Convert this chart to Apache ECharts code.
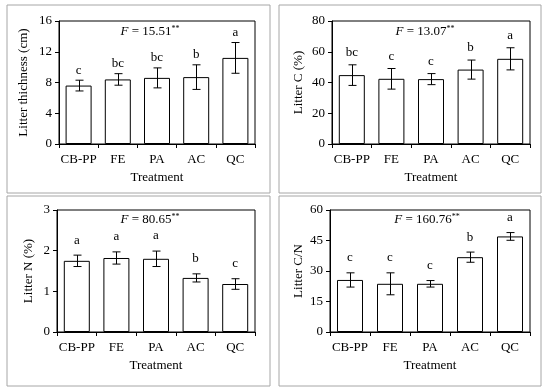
<!DOCTYPE html>
<html><head><meta charset="utf-8">
<script src="https://cdn.jsdelivr.net/npm/echarts@6/dist/echarts.min.js"></script>
<style>html,body{margin:0;padding:0;background:#fff}#c{width:550px;height:389px}</style>
</head><body><div id="c"></div>
<script>
var categories = ['CB-PP', 'FE', 'PA', 'AC', 'QC'];

var thickMean = [7.6, 8.4, 8.6, 8.7, 11.2];
var thickErr = [0.7, 0.75, 1.3, 1.6, 2.0];
var thickLetters = ['c', 'bc', 'bc', 'b', 'a'];

var carbonMean = [44.8, 42.4, 42.2, 48.4, 55.4];
var carbonErr = [6.7, 6.7, 3.6, 6.2, 7.2];
var carbonLetters = ['bc', 'c', 'c', 'b', 'a'];

var nitrogenMean = [1.75, 1.82, 1.80, 1.33, 1.18];
var nitrogenErr = [0.14, 0.15, 0.19, 0.10, 0.13];
var nitrogenLetters = ['a', 'a', 'a', 'b', 'c'];

var cnMean = [25.6, 23.7, 23.7, 36.8, 47.0];
var cnErr = [3.5, 5.4, 1.6, 2.5, 1.9];
var cnLetters = ['c', 'c', 'c', 'b', 'a'];

var fValues = ['15.51', '13.07', '80.65', '160.76'];
var yNames = ['Litter thichness (cm)', 'Litter C (%)', 'Litter N (%)', 'Litter C/N'];
var yMax = [16, 80, 3, 60];
var yInterval = [4, 20, 1, 15];

var FONT = '"Liberation Serif", "Times New Roman", serif';
var panels = [
  {mean: thickMean, err: thickErr, letters: thickLetters, grid: {left: 59, top: 21, width: 196, height: 123}, nameGap: 29, letterOff: 10, box: [7, 5, 263, 188], f: [150, 32]},
  {mean: carbonMean, err: carbonErr, letters: carbonLetters, grid: {left: 332, top: 21, width: 198, height: 123}, nameGap: 27, letterOff: 12, box: [279, 5, 262, 188], f: [425, 32]},
  {mean: nitrogenMean, err: nitrogenErr, letters: nitrogenLetters, grid: {left: 57, top: 210, width: 198, height: 122}, nameGap: 22, letterOff: 15, box: [7, 196, 263, 190], f: [150, 220]},
  {mean: cnMean, err: cnErr, letters: cnLetters, grid: {left: 330, top: 210, width: 200, height: 122}, nameGap: 25, letterOff: 15, box: [279, 196, 262, 190], f: [427, 220]}
];

var grids = [], xAxes = [], yAxes = [], series = [], graphics = [];
panels.forEach(function (p, k) {
  grids.push(Object.assign({show: true, borderColor: '#000', borderWidth: 1, backgroundColor: 'transparent'}, p.grid));
  xAxes.push({
    type: 'category', gridIndex: k, data: categories,
    name: 'Treatment', nameLocation: 'middle', nameGap: 27,
    nameTextStyle: {fontFamily: FONT, fontSize: 13, color: '#000'},
    axisLine: {lineStyle: {color: '#000', width: 1}},
    axisTick: {show: true, length: 4, lineStyle: {color: '#000'}},
    axisLabel: {fontFamily: FONT, fontSize: 13, color: '#000', margin: 9, interval: 0},
    splitLine: {show: false}
  });
  yAxes.push({
    type: 'value', gridIndex: k, min: 0, max: yMax[k], interval: yInterval[k],
    name: yNames[k], nameLocation: 'middle', nameGap: p.nameGap,
    nameTextStyle: {fontFamily: FONT, fontSize: 13, color: '#000'},
    axisLine: {show: true, lineStyle: {color: '#000', width: 1}},
    axisTick: {show: true, length: 4, lineStyle: {color: '#000'}},
    axisLabel: {fontFamily: FONT, fontSize: 13, color: '#000', margin: 7},
    splitLine: {show: false}
  });
  series.push({
    type: 'bar', xAxisIndex: k, yAxisIndex: k, data: p.mean, barWidth: 26, z: 2,
    itemStyle: {color: '#fff', borderColor: '#000', borderWidth: 1},
    silent: true, animation: false
  });
  var errData = p.mean.map(function (m, i) { return [i, m, p.err[i]]; });
  series.push({
    type: 'custom', xAxisIndex: k, yAxisIndex: k, data: errData, animation: false, silent: true, z: 5,
    renderItem: function (params, api) {
      var i = api.value(0), m = api.value(1), e = api.value(2);
      var hi = api.coord([i, m + e]), lo = api.coord([i, m - e]);
      var x = Math.round(hi[0]) + 0.5, cw = 4;
      var st = {stroke: '#000', lineWidth: 1};
      return {type: 'group', children: [
        {type: 'line', shape: {x1: x, y1: hi[1], x2: x, y2: lo[1]}, style: st},
        {type: 'line', shape: {x1: x - cw, y1: hi[1], x2: x + cw, y2: hi[1]}, style: st},
        {type: 'line', shape: {x1: x - cw, y1: lo[1], x2: x + cw, y2: lo[1]}, style: st}
      ]};
    }
  });
  var letterData = p.mean.map(function (m, i) { return [i, m + p.err[i]]; });
  var letters = p.letters, off = p.letterOff;
  series.push({
    type: 'custom', xAxisIndex: k, yAxisIndex: k, data: letterData, animation: false, silent: true, z: 5,
    renderItem: function (params, api) {
      var pt = api.coord([api.value(0), api.value(1)]);
      return {type: 'text', x: pt[0], y: pt[1] - off, style: {
        text: letters[params.dataIndex], fontFamily: FONT, fontSize: 13, fill: '#000',
        align: 'center', verticalAlign: 'middle'}};
    }
  });
  graphics.push({type: 'rect', shape: {x: p.box[0], y: p.box[1], width: p.box[2], height: p.box[3]},
    style: {fill: 'none', stroke: '#a6a6a6', lineWidth: 1}, silent: true, z: -1});
  graphics.push({type: 'text', x: p.f[0], y: p.f[1], style: {
    text: '{i|F} = ' + fValues[k] + '{s|**}',
    rich: {i: {fontStyle: 'italic', fontFamily: FONT, fontSize: 13, fill: '#000'},
           s: {fontFamily: FONT, fontSize: 8, fill: '#000', padding: [0, 0, 7, 0]}},
    fontFamily: FONT, fontSize: 13, fill: '#000', align: 'center', verticalAlign: 'middle'}});
});

var chart = echarts.init(document.getElementById('c'), null, {renderer: 'canvas'});
chart.setOption({
  animation: false,
  backgroundColor: '#fff',
  grid: grids, xAxis: xAxes, yAxis: yAxes, series: series, graphic: graphics
});
</script></body></html>
